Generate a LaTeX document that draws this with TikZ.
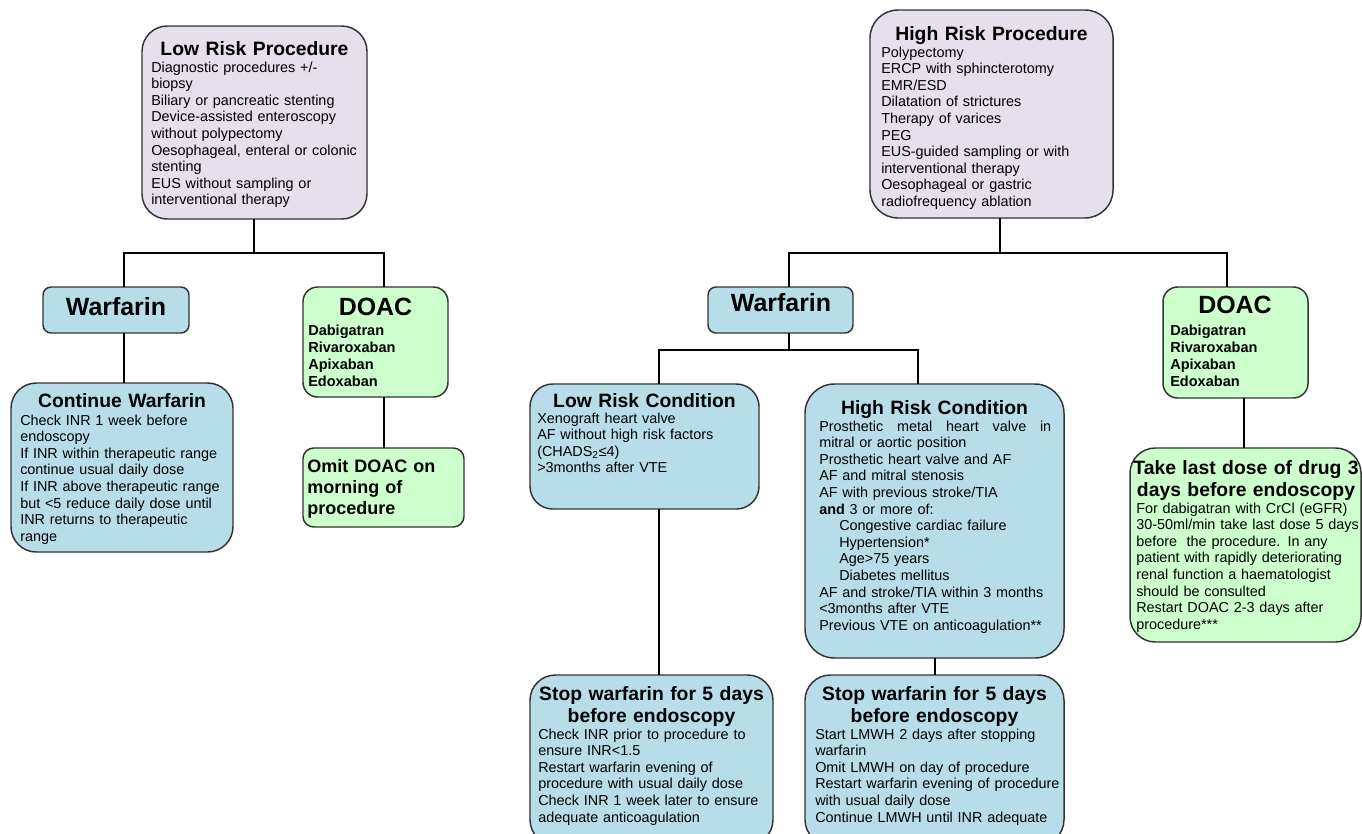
\documentclass[tikz,border=0pt]{standalone}
\usepackage{fontspec}
\setmainfont{Liberation Sans}
\usetikzlibrary{fit}
\definecolor{lav}{HTML}{E6E0EC}
\definecolor{lblue}{HTML}{B7DEE8}
\definecolor{lgreen}{HTML}{CCFFCC}
\definecolor{edgec}{HTML}{333333}
\newcommand\bodyf{\fontsize{10.8}{12.45}\selectfont}
\newcommand\titlef{\fontsize{14.5}{16.5}\selectfont\bfseries}
\newcommand\bigf{\fontsize{18.7}{22}\selectfont\bfseries}
\newcommand\drugf{\fontsize{10.9}{12.75}\selectfont\bfseries}
\newcommand\omitf{\fontsize{13.5}{15.75}\selectfont\bfseries}
\begin{document}
\begin{tikzpicture}[x=0.75pt,y=-0.75pt,
  boxbase/.style={draw=edgec, line width=1.1pt, inner sep=0pt, outer sep=0pt},
  lavbox/.style={boxbase, fill=lav},
  bluebox/.style={boxbase, fill=lblue},
  greenbox/.style={boxbase, fill=lgreen},
  conn/.style={line width=2pt, black},
  body/.style={anchor=base west, inner sep=0pt, align=left, font=\bodyf, text width=#1},
  ttl/.style={anchor=base, inner sep=0pt, align=center, font=\titlef, text width=#1},
  bigt/.style={anchor=base, inner sep=0pt, font=\bigf},
  drugs/.style={anchor=base west, inner sep=0pt, align=left, font=\drugf, text width=120pt},
]
\useasboundingbox (0,0) rectangle (1362,833);
\clip (0,0) rectangle (1362,833);

% ---------- boxes ----------
\node (lrp) [lavbox, rounded corners=19pt, fit={(142,26) (367,219)}] {};
\node (hrp) [lavbox, rounded corners=21pt, fit={(870,10) (1113,218)}] {};
\node (wl)  [bluebox, rounded corners=6pt, fit={(43,287) (189,333)}] {};
\node (dl)  [greenbox, rounded corners=11pt, fit={(303,287) (448,397)}] {};
\node (cw)  [bluebox, rounded corners=19pt, fit={(11,383) (233,552)}] {};
\node (om)  [greenbox, rounded corners=8pt, fit={(303,448) (464,527)}] {};
\node (wr)  [bluebox, rounded corners=6pt, fit={(708,287) (853,333)}] {};
\node (dr)  [greenbox, rounded corners=11pt, fit={(1163,287) (1308,398)}] {};
\node (tl)  [greenbox, rounded corners=19pt, fit={(1130,448) (1361,642)}] {};
\node (lrc) [bluebox, rounded corners=17pt, fit={(530,384) (759,509)}] {};
\node (hrc) [bluebox, rounded corners=22pt, fit={(805,384) (1064,658)}] {};
\node (swl) [bluebox, rounded corners=19pt, fit={(530,675) (773,845)}] {};
\node (swr) [bluebox, rounded corners=19pt, fit={(805,675) (1064,845)}] {};

% ---------- junctions ----------
\coordinate (jL)  at (254,253);
\coordinate (jLa) at (124,253);
\coordinate (jLb) at (384,253);
\coordinate (jR)  at (1000,253);
\coordinate (jRa) at (789,253);
\coordinate (jRb) at (1227,253);
\coordinate (jW)  at (789,350);
\coordinate (jWa) at (659,350);
\coordinate (jWb) at (918,350);
\coordinate (jH)  at (935,660);
\coordinate (jD)  at (1244,420);

% ---------- connectors ----------
\draw[conn] (lrp.south -| jL) -- (jL);
\draw[conn] (wl.north -| jLa) -- (jLa) -- (jLb) -- (dl.north -| jLb);
\draw[conn] (wl.south -| jLa) -- (cw.north -| jLa);
\draw[conn] (dl.south -| jLb) -- (om.north -| jLb);
\draw[conn] (hrp.south -| jR) -- (jR);
\draw[conn] (wr.north -| jRa) -- (jRa) -- (jRb) -- (dr.north -| jRb);
\draw[conn] (wr.south -| jW) -- (jW);
\draw[conn] (lrc.north -| jWa) -- (jWa) -- (jWb) -- (hrc.north -| jWb);
\draw[conn] (lrc.south -| jWa) -- (swl.north -| jWa);
\draw[conn] (hrc.south -| jH) -- (swr.north -| jH);
\draw[conn] (dr.south -| jD) -- (tl.north -| jD);

% ---------- texts ----------
\node (lrpT) [ttl=220pt] at (254.5,55) {Low Risk Procedure};
\node (lrpB) [body=160pt] at (151,72) {Diagnostic procedures +/-\\ biopsy\\ Biliary or pancreatic stenting\\ Device-assisted enteroscopy\\ without polypectomy\\ Oesophageal, enteral or colonic\\ stenting\\ EUS without sampling or\\ interventional therapy};

\node (hrpT) [ttl=220pt] at (991.5,40) {High Risk Procedure};
\node (hrpB) [body=170pt] at (881,57) {Polypectomy\\ ERCP with sphincterotomy\\ EMR/ESD\\ Dilatation of strictures\\ Therapy of varices\\ PEG\\ EUS-guided sampling or with\\ interventional therapy\\ Oesophageal or gastric\\ radiofrequency ablation};

\node (wlT) [bigt] at (116,315) {Warfarin};
\node (wrT) [bigt] at (781,311) {Warfarin};

\node (dlT) [bigt] at (375.5,315) {DOAC};
\node (dlB) [drugs] at (308,335) {Dabigatran\\ Rivaroxaban\\ Apixaban\\ Edoxaban};
\node (drT) [bigt] at (1235,313) {DOAC};
\node (drB) [drugs] at (1170,335) {Dabigatran\\ Rivaroxaban\\ Apixaban\\ Edoxaban};

\node (omB) [anchor=base west, inner sep=0pt, align=left, font=\omitf, text width=130pt] at (307,472) {Omit DOAC on\\ morning of\\ procedure};

\node (cwT) [ttl=160pt] at (122,407) {Continue Warfarin};
\node (cwB) [body=165pt] at (20,425) {Check INR 1 week before\\ endoscopy\\ If INR within therapeutic range\\ continue usual daily dose\\ If INR above therapeutic range\\ but <5 reduce daily dose until\\ INR returns to therapeutic\\ range};

\node (lrcT) [ttl=170pt] at (644.5,407) {Low Risk Condition};
\node (lrcB) [body=165pt] at (537,423) {Xenograft heart valve\\ AF without high risk factors\\ (CHADS\textsubscript{2}≤4)\\ >3months after VTE};

\node (hrcT) [ttl=190pt] at (934.5,414) {High Risk Condition};
\node (hrcB) [body=174pt] at (819,431) {\hbox to \linewidth{Prosthetic\hfill metal\hfill heart\hfill valve\hfill in}\\ mitral or aortic position\\ Prosthetic heart valve and AF\\ AF and mitral stenosis\\ AF with previous stroke/TIA\\ \textbf{and} 3 or more of:\\ \hspace*{15pt}Congestive cardiac failure\\ \hspace*{15pt}Hypertension*\\ \hspace*{15pt}Age>75 years\\ \hspace*{15pt}Diabetes mellitus\\ AF and stroke/TIA within 3 months\\ <3months after VTE\\ Previous VTE on anticoagulation**};

\node (swlT) [ttl=180pt] at (651.5,700) {Stop warfarin for 5 days\\ before endoscopy};
\node (swlB) [body=180pt] at (538,739) {Check INR prior to procedure to\\ ensure INR<1.5\\ Restart warfarin evening of\\ procedure with usual daily dose\\ Check INR 1 week later to ensure\\ adequate anticoagulation};

\node (swrT) [ttl=190pt] at (934.5,700) {Stop warfarin for 5 days\\ before endoscopy};
\node (swrB) [body=190pt] at (815,739) {Start LMWH 2 days after stopping\\ warfarin\\ Omit LMWH on day of procedure\\ Restart warfarin evening of procedure\\ with usual daily dose\\ Continue LMWH until INR adequate};

\node (tlT) [ttl=175pt] at (1246,474) {Take last dose of drug 3\\ days before endoscopy};
\node (tlB) [body=172pt] at (1136,513) {For dabigatran with CrCl (eGFR)\\ 30-50ml/min take last dose 5 days\\ before~ the procedure. In any\\ patient with rapidly deteriorating\\ renal function a haematologist\\ should be consulted\\ Restart DOAC 2-3 days after\\ procedure***};
\end{tikzpicture}
\end{document}
